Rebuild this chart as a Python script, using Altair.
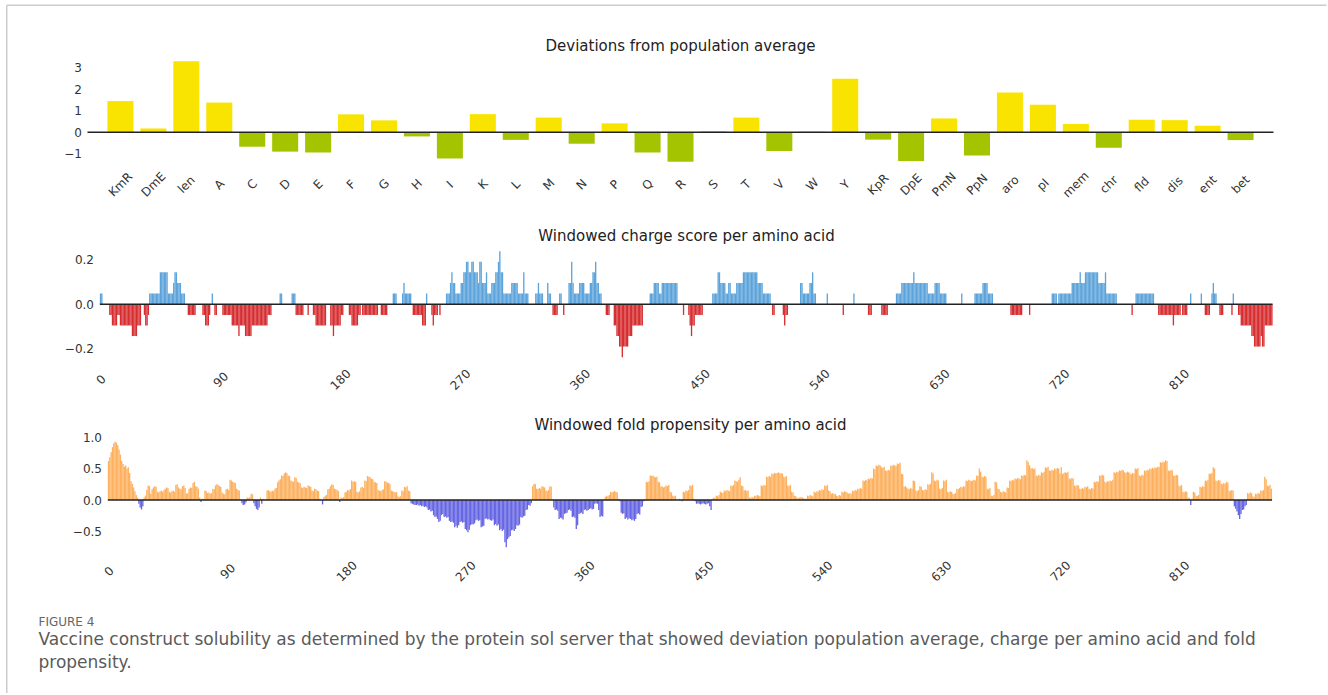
import altair as alt
import pandas as pd

# ---------------- data ----------------
CATEGORIES = ["KmR", "DmE", "len", "A", "C", "D", "E", "F", "G", "H", "I", "K", "L", "M",
              "N", "P", "Q", "R", "S", "T", "V", "W", "Y", "KpR", "DpE", "PmN", "PpN",
              "aro", "pI", "mem", "chr", "fld", "dis", "ent", "bet"]
DEVIATIONS = [1.45, 0.17, 3.31, 1.38, -0.68, -0.91, -0.95, 0.83, 0.55, -0.20, -1.23, 0.84,
              -0.36, 0.68, -0.54, 0.41, -0.95, -1.38, 0.05, 0.68, -0.88, 0.03, 2.49, -0.35,
              -1.35, 0.64, -1.09, 1.85, 1.28, 0.38, -0.73, 0.58, 0.56, 0.30, -0.37]
DEV_TICKS = [-1, 0, 1, 2, 3]

N_RESIDUES = 881

# windowed charge: (first residue, last residue, value); residues not listed are 0
CHARGE_SEGMENTS = [
    (0, 1, 0.048),
    (7, 8, -0.048), (9, 12, -0.095), (13, 14, -0.048), (15, 23, -0.095), (24, 27, -0.143), (28, 30, -0.095),
    (33, 33, -0.048), (34, 35, -0.095), (36, 36, -0.048),
    (37, 44, 0.048), (45, 50, 0.143), (51, 54, 0.048), (55, 55, 0.095), (56, 57, 0.143), (58, 60, 0.095), (61, 63, 0.048),
    (66, 71, -0.048),
    (77, 78, -0.048), (79, 81, -0.095), (82, 82, -0.048),
    (84, 84, 0.048),
    (86, 87, -0.048),
    (92, 98, -0.048), (99, 103, -0.095), (104, 104, -0.143), (105, 108, -0.095), (109, 113, -0.143),
    (114, 125, -0.095), (126, 128, -0.048),
    (135, 136, 0.048),
    (144, 146, 0.048),
    (147, 152, -0.048),
    (156, 156, -0.048),
    (160, 161, -0.048), (162, 169, -0.095),
    (173, 174, -0.095), (175, 175, -0.143), (176, 180, -0.095), (181, 182, -0.048),
    (187, 188, -0.048), (189, 193, -0.095), (194, 195, -0.048),
    (197, 208, -0.048),
    (211, 215, -0.048),
    (220, 222, 0.048),
    (227, 227, 0.048), (228, 228, 0.095), (229, 233, 0.048),
    (235, 241, -0.048), (242, 244, -0.095),
    (245, 245, 0.048),
    (249, 249, -0.048), (250, 250, -0.095), (251, 253, -0.048),
    (255, 255, -0.048),
    (260, 262, 0.048), (263, 263, 0.095), (264, 264, 0.143), (265, 266, 0.095), (267, 270, 0.048),
    (271, 272, 0.095), (273, 274, 0.143), (275, 276, 0.190), (277, 278, 0.143), (279, 280, 0.190),
    (281, 283, 0.143), (284, 284, 0.095), (285, 286, 0.190), (287, 289, 0.095), (290, 290, 0.143),
    (291, 293, 0.048), (294, 296, 0.095), (297, 298, 0.143), (299, 299, 0.190), (300, 300, 0.238),
    (301, 302, 0.143), (303, 308, 0.048), (309, 313, 0.095), (314, 317, 0.048), (318, 318, 0.143),
    (319, 321, 0.048),
    (327, 328, 0.048), (329, 329, 0.095), (330, 332, 0.048),
    (336, 336, 0.095), (337, 338, 0.048),
    (340, 343, -0.048),
    (345, 346, 0.048),
    (348, 348, -0.048),
    (352, 353, 0.095), (354, 354, 0.190), (355, 355, 0.095), (356, 359, 0.048), (360, 363, 0.095),
    (364, 367, 0.048), (368, 369, 0.095), (370, 371, 0.143), (372, 372, 0.190), (373, 374, 0.095),
    (375, 376, 0.048),
    (380, 382, -0.048),
    (386, 387, -0.095), (388, 389, -0.143), (390, 391, -0.190), (392, 392, -0.238), (393, 396, -0.190),
    (397, 399, -0.143), (400, 407, -0.095),
    (413, 415, 0.048), (416, 419, 0.095), (420, 421, 0.048), (422, 433, 0.095),
    (438, 438, -0.048),
    (442, 442, -0.048), (443, 443, -0.095), (444, 444, -0.143), (445, 446, -0.095), (447, 452, -0.048),
    (460, 463, 0.048), (464, 465, 0.143), (466, 469, 0.095), (470, 471, 0.048), (472, 473, 0.095),
    (474, 477, 0.048), (478, 482, 0.095), (483, 493, 0.143), (494, 497, 0.095), (498, 503, 0.048),
    (505, 506, -0.048),
    (513, 513, -0.048), (514, 514, -0.095), (515, 516, -0.048),
    (526, 527, 0.095), (528, 532, 0.048), (533, 534, 0.095), (535, 535, 0.143), (536, 537, 0.048),
    (546, 546, 0.048),
    (558, 558, -0.048),
    (566, 566, 0.048),
    (577, 579, -0.048),
    (587, 591, -0.048),
    (598, 601, 0.048), (602, 610, 0.095), (611, 611, 0.143), (612, 621, 0.095), (622, 626, 0.048),
    (627, 630, 0.095), (631, 635, 0.048),
    (647, 647, 0.048),
    (657, 662, 0.048), (663, 666, 0.095), (667, 670, 0.048),
    (684, 692, -0.048),
    (698, 698, -0.048),
    (715, 718, 0.048), (720, 729, 0.048), (730, 735, 0.095), (736, 736, 0.143), (737, 739, 0.095),
    (740, 749, 0.143), (750, 754, 0.095), (755, 755, 0.143), (756, 763, 0.048),
    (775, 775, -0.048),
    (778, 791, 0.048),
    (795, 805, -0.048), (806, 806, -0.095), (807, 811, -0.048), (813, 816, -0.048),
    (819, 819, 0.048),
    (827, 827, 0.048),
    (830, 833, -0.048),
    (835, 835, 0.048), (836, 836, 0.095), (837, 838, 0.048),
    (841, 843, -0.048),
    (850, 850, -0.048),
    (851, 851, 0.048),
    (855, 856, -0.048), (857, 864, -0.095), (865, 866, -0.143), (867, 871, -0.190), (872, 872, -0.143),
    (873, 874, -0.190), (875, 880, -0.095),
]

# windowed fold propensity, one value per residue (0 .. 880)
FOLD_VALUES = [
    0.62, 0.68, 0.76, 0.84, 0.90, 0.93, 0.91, 0.87, 0.80, 0.72, 0.62, 0.57, 0.53, 0.55, 0.50, 0.52, 0.43, 0.30, 0.26, 0.20,
    0.14, 0.08, 0.04, -0.06, -0.12, -0.15, -0.10, 0.04, 0.07, 0.16, 0.23, 0.22, 0.10, 0.17, 0.20, 0.22, 0.21, 0.13, 0.12, 0.14,
    0.15, 0.13, 0.16, 0.18, 0.20, 0.19, 0.13, 0.12, 0.14, 0.15, 0.13, 0.24, 0.25, 0.20, 0.18, 0.17, 0.22, 0.23, 0.19, 0.10,
    0.11, 0.18, 0.20, 0.19, 0.27, 0.29, 0.22, 0.21, 0.18, 0.04, -0.03, 0.02, 0.02, 0.15, 0.14, 0.11, 0.12, 0.10, 0.11, 0.18,
    0.17, 0.23, 0.25, 0.24, 0.22, 0.21, 0.12, 0.10, 0.09, 0.17, 0.18, 0.16, 0.32, 0.31, 0.29, 0.28, 0.27, 0.18, 0.16, 0.15,
    0.01, -0.05, -0.08, -0.07, -0.04, 0.04, 0.03, 0.05, 0.10, 0.09, -0.05, -0.10, -0.14, -0.16, -0.12, 0.04, -0.06, 0.02, 0.00, 0.01,
    0.15, 0.16, 0.14, 0.13, 0.15, 0.14, 0.18, 0.19, 0.28, 0.31, 0.33, 0.39, 0.38, 0.42, 0.44, 0.43, 0.39, 0.38, 0.31, 0.30,
    0.29, 0.36, 0.35, 0.29, 0.28, 0.27, 0.20, 0.19, 0.21, 0.20, 0.19, 0.23, 0.22, 0.21, 0.15, 0.14, 0.18, 0.17, 0.15, 0.14,
    0.02, 0.00, -0.07, 0.05, 0.07, 0.08, 0.17, 0.18, 0.22, 0.25, 0.24, 0.18, 0.17, 0.16, 0.14, -0.03, 0.04, 0.03, 0.05, 0.12,
    0.13, 0.16, 0.15, 0.17, 0.31, 0.29, 0.30, 0.29, 0.13, 0.12, 0.14, 0.20, 0.21, 0.19, 0.31, 0.30, 0.38, 0.37, 0.36, 0.34,
    0.33, 0.29, 0.28, 0.27, 0.16, 0.15, 0.14, 0.16, 0.17, 0.30, 0.29, 0.28, 0.27, 0.25, 0.15, 0.14, 0.13, 0.12, 0.13, 0.06,
    0.05, 0.06, 0.15, 0.14, 0.21, 0.20, 0.22, 0.15, 0.14, -0.05, -0.06, -0.07, -0.08, -0.08, -0.07, -0.09, -0.08, -0.10, -0.09, -0.11,
    -0.10, -0.12, -0.16, -0.15, -0.18, -0.17, -0.24, -0.27, -0.26, -0.30, -0.35, -0.33, -0.24, -0.22, -0.27, -0.26, -0.28, -0.27, -0.33, -0.35,
    -0.34, -0.36, -0.43, -0.41, -0.44, -0.40, -0.35, -0.34, -0.36, -0.35, -0.46, -0.48, -0.51, -0.47, -0.40, -0.38, -0.39, -0.37, -0.32, -0.31,
    -0.33, -0.32, -0.43, -0.42, -0.41, -0.30, -0.29, -0.31, -0.30, -0.32, -0.33, -0.31, -0.40, -0.38, -0.41, -0.39, -0.48, -0.46, -0.49, -0.47,
    -0.67, -0.75, -0.62, -0.59, -0.57, -0.48, -0.47, -0.49, -0.46, -0.40, -0.41, -0.39, -0.27, -0.28, -0.26, -0.25, -0.16, -0.15, -0.08, -0.09,
    -0.05, 0.22, 0.26, 0.25, 0.18, 0.17, 0.19, 0.18, 0.22, 0.21, 0.20, 0.15, 0.14, 0.16, 0.22, 0.21, 0.01, -0.12, -0.16, -0.15,
    -0.17, -0.30, -0.28, -0.29, -0.31, -0.22, -0.21, -0.20, -0.16, -0.15, -0.17, -0.27, -0.26, -0.28, -0.46, -0.40, -0.22, -0.21, -0.20, -0.22,
    -0.16, -0.15, -0.17, -0.16, -0.14, -0.13, -0.15, -0.14, -0.06, -0.05, -0.06, -0.16, -0.27, -0.25, -0.26, 0.01, 0.05, 0.07, 0.06, 0.08,
    0.13, 0.12, 0.13, 0.14, 0.13, 0.12, 0.02, -0.02, -0.20, -0.22, -0.21, -0.30, -0.28, -0.31, -0.29, -0.30, -0.32, -0.31, -0.33, -0.30,
    -0.22, -0.21, -0.23, -0.11, -0.10, -0.02, 0.01, 0.29, 0.28, 0.30, 0.39, 0.38, 0.39, 0.37, 0.36, 0.37, 0.29, 0.28, 0.21, 0.22,
    0.20, 0.21, 0.23, 0.22, 0.24, 0.13, 0.12, 0.07, 0.06, 0.07, 0.01, 0.01, 0.02, 0.01, -0.02, 0.13, 0.12, 0.15, 0.14, 0.16,
    0.23, 0.22, 0.24, 0.02, -0.02, -0.06, -0.05, -0.06, -0.07, -0.06, -0.05, -0.06, -0.07, -0.06, -0.05, -0.10, -0.16, 0.02, 0.04, 0.03,
    0.07, 0.06, 0.08, 0.13, 0.12, 0.11, 0.15, 0.14, 0.16, 0.15, 0.14, 0.23, 0.22, 0.24, 0.31, 0.30, 0.29, 0.32, 0.36, 0.23,
    0.22, 0.15, 0.16, 0.14, 0.15, 0.04, 0.03, 0.05, 0.04, 0.07, 0.06, 0.08, 0.07, 0.06, 0.23, 0.22, 0.24, 0.23, 0.37, 0.36,
    0.38, 0.37, 0.42, 0.41, 0.43, 0.42, 0.43, 0.44, 0.42, 0.43, 0.42, 0.37, 0.36, 0.38, 0.23, 0.22, 0.24, 0.13, 0.12, 0.07,
    0.06, 0.04, 0.03, 0.04, 0.05, 0.04, 0.03, 0.02, 0.02, 0.07, 0.06, 0.08, 0.07, 0.06, 0.13, 0.12, 0.14, 0.13, 0.16, 0.15,
    0.17, 0.16, 0.23, 0.22, 0.24, 0.15, 0.14, 0.10, 0.11, 0.09, 0.10, 0.07, 0.06, 0.08, 0.07, 0.13, 0.12, 0.14, 0.13, 0.12,
    0.10, 0.11, 0.09, 0.15, 0.14, 0.16, 0.15, 0.18, 0.17, 0.19, 0.18, 0.31, 0.30, 0.32, 0.31, 0.34, 0.33, 0.35, 0.34, 0.50,
    0.49, 0.55, 0.54, 0.56, 0.55, 0.52, 0.51, 0.53, 0.47, 0.46, 0.48, 0.47, 0.55, 0.54, 0.56, 0.55, 0.54, 0.58, 0.57, 0.59,
    0.42, 0.41, 0.21, 0.22, 0.20, 0.18, 0.17, 0.19, 0.18, 0.31, 0.30, 0.15, 0.14, 0.16, 0.22, 0.21, 0.16, 0.15, 0.17, 0.16,
    0.25, 0.24, 0.26, 0.44, 0.42, 0.31, 0.30, 0.32, 0.31, 0.18, 0.17, 0.19, 0.31, 0.30, 0.32, 0.13, 0.12, 0.14, 0.13, 0.10,
    0.09, 0.11, 0.18, 0.17, 0.19, 0.21, 0.20, 0.22, 0.21, 0.31, 0.30, 0.32, 0.31, 0.30, 0.31, 0.32, 0.31, 0.39, 0.38, 0.50,
    0.45, 0.37, 0.36, 0.38, 0.37, 0.18, 0.17, 0.19, 0.07, 0.06, 0.08, 0.29, 0.28, 0.18, 0.17, 0.13, 0.12, 0.14, 0.13, 0.12,
    0.20, 0.19, 0.31, 0.30, 0.32, 0.31, 0.34, 0.33, 0.35, 0.34, 0.33, 0.39, 0.38, 0.40, 0.39, 0.63, 0.60, 0.55, 0.50, 0.51,
    0.49, 0.50, 0.39, 0.38, 0.40, 0.39, 0.44, 0.43, 0.45, 0.52, 0.51, 0.53, 0.47, 0.46, 0.48, 0.47, 0.50, 0.49, 0.51, 0.50,
    0.42, 0.52, 0.41, 0.43, 0.44, 0.43, 0.45, 0.34, 0.33, 0.35, 0.34, 0.23, 0.22, 0.24, 0.23, 0.18, 0.17, 0.19, 0.18, 0.21,
    0.20, 0.22, 0.18, 0.17, 0.19, 0.18, 0.29, 0.28, 0.30, 0.29, 0.39, 0.38, 0.40, 0.39, 0.29, 0.28, 0.30, 0.29, 0.31, 0.30,
    0.32, 0.44, 0.43, 0.45, 0.44, 0.47, 0.46, 0.48, 0.47, 0.44, 0.43, 0.45, 0.44, 0.42, 0.41, 0.43, 0.42, 0.50, 0.49, 0.51,
    0.39, 0.38, 0.40, 0.39, 0.47, 0.46, 0.48, 0.47, 0.50, 0.49, 0.51, 0.50, 0.52, 0.51, 0.53, 0.52, 0.60, 0.59, 0.61, 0.60,
    0.63, 0.62, 0.47, 0.46, 0.48, 0.47, 0.39, 0.38, 0.40, 0.39, 0.23, 0.22, 0.24, 0.13, 0.12, 0.14, 0.13, 0.04, 0.03, -0.08,
    0.02, 0.13, 0.12, 0.07, 0.06, 0.08, 0.21, 0.20, 0.22, 0.21, 0.31, 0.30, 0.32, 0.42, 0.41, 0.43, 0.52, 0.50, 0.31, 0.30,
    0.32, 0.31, 0.26, 0.25, 0.27, 0.26, 0.29, 0.28, 0.15, 0.14, 0.16, 0.15, -0.10, -0.14, -0.18, -0.24, -0.30, -0.22, -0.16, -0.15,
    -0.10, -0.08, 0.11, 0.10, 0.12, 0.11, 0.06, 0.05, 0.10, 0.09, 0.11, 0.10, 0.15, 0.14, 0.16, 0.37, 0.33, 0.23, 0.22, 0.24,
    0.18,
]

X_TICKS = [0, 90, 180, 270, 360, 450, 540, 630, 720, 810]

TITLE_1 = "Deviations from population average"
TITLE_2 = "Windowed charge score per amino acid"
TITLE_3 = "Windowed fold propensity per amino acid"
CAPTION_HEAD = "FIGURE 4"
CAPTION_LINE_1 = ("Vaccine construct solubility as determined by the protein sol server that showed "
                  "deviation population average, charge per amino acid and fold")
CAPTION_LINE_2 = "propensity."

# ---------------- styling ----------------
YELLOW, GREEN = "#f9e300", "#a4c400"
BLUE, RED = "#5ba3da", "#d62d30"
ORANGE, VIOLET = "#fdb05e", "#6666e4"
FONT = "DejaVu Sans"
CAP_FONT = "DejaVu Sans"
W = 1186

# ---------------- tables ----------------
dev_df = pd.DataFrame({"cat": CATEGORIES, "v": DEVIATIONS})

charge = [0.0] * N_RESIDUES
for s, e, v in CHARGE_SEGMENTS:
    for i in range(s, e + 1):
        charge[i] = v
charge_df = pd.DataFrame({"i": list(range(N_RESIDUES)), "v": charge})
charge_df = charge_df[charge_df.v != 0]
charge_df = charge_df.assign(lo=charge_df.i - 0.5, hi=charge_df.i + 0.5, zero=0.0)

fold_df = pd.DataFrame({"i": list(range(len(FOLD_VALUES))), "v": FOLD_VALUES})
fold_df = fold_df.assign(lo=fold_df.i - 0.5, hi=fold_df.i + 0.5, zero=0.0)

zero_df = pd.DataFrame({"x0": [-0.5], "x1": [N_RESIDUES - 0.5], "y": [0.0]})
one_df = pd.DataFrame({"y": [0.0]})


def panel_title(text, dx, dy):
    return alt.TitleParams(text=text, font=FONT, fontSize=15, fontWeight="normal",
                           color="#222222", anchor="middle", offset=3, dx=dx, dy=dy)


# ---------------- panel 1 ----------------
y1_scale = alt.Scale(domain=[-2.0, 3.6], nice=False, zero=False)
y1_axis = alt.Axis(title=None, values=DEV_TICKS, format="d", offset=4, labelPadding=2,
                   labelOverlap=False)
bars1 = alt.Chart(dev_df).mark_bar().encode(
    x=alt.X("cat:N", sort=CATEGORIES,
            scale=alt.Scale(paddingInner=0.21, paddingOuter=0.605),
            axis=alt.Axis(title=None, labelAngle=-45, labelAlign="center", labelBaseline="middle",
                          labelPadding=9, labelOverlap=False)),
    y=alt.Y("v:Q", scale=y1_scale, axis=y1_axis),
    color=alt.condition(alt.datum.v > 0, alt.value(YELLOW), alt.value(GREEN)),
)
zero1 = alt.Chart(one_df).mark_rule(color="#222222", strokeWidth=1.5).encode(
    x=alt.value(0), x2=alt.value(W), y=alt.Y("y:Q", scale=y1_scale, axis=y1_axis))
panel1 = alt.layer(bars1, zero1).properties(width=W, height=120, title=panel_title(TITLE_1, 0, 2))

# ---------------- panel 2 ----------------
x2_scale = alt.Scale(domain=[-9.77, 881.2], nice=False, zero=False)
bars2 = alt.Chart(charge_df).mark_rect().encode(
    x=alt.X("lo:Q", scale=x2_scale,
            axis=alt.Axis(title=None, values=X_TICKS, format="d", labelAngle=-45, labelAlign="center",
                          labelBaseline="middle", labelPadding=15, labelOverlap=False)),
    x2="hi:Q",
    y=alt.Y("v:Q", scale=alt.Scale(domain=[-0.269, 0.27], nice=False, zero=False),
            axis=alt.Axis(title=None, values=[-0.2, -0.1, 0.0, 0.1, 0.2], format=".1f",
                          offset=-8, labelPadding=2, labelOverlap=False)),
    y2="zero:Q",
    color=alt.condition(alt.datum.v > 0, alt.value(BLUE), alt.value(RED)),
)
zero2 = alt.Chart(zero_df).mark_rule(color="#222222", strokeWidth=1.5).encode(
    x="x0:Q", x2="x1:Q", y="y:Q")
panel2 = alt.layer(bars2, zero2).properties(width=W, height=120.2, title=panel_title(TITLE_2, 6, 3))

# ---------------- panel 3 ----------------
x3_scale = alt.Scale(domain=[-15.89, 881.6], nice=False, zero=False)
bars3 = alt.Chart(fold_df).mark_rect().encode(
    x=alt.X("lo:Q", scale=x3_scale,
            axis=alt.Axis(title=None, values=X_TICKS, format="d", labelAngle=-45, labelAlign="center",
                          labelBaseline="middle", labelPadding=11, labelOverlap=False)),
    x2="hi:Q",
    y=alt.Y("v:Q", scale=alt.Scale(domain=[-0.95, 1.048], nice=False, zero=False),
            axis=alt.Axis(title=None, values=[-0.5, 0.0, 0.5, 1.0], format=".1f",
                          offset=-16, labelPadding=2, labelOverlap=False)),
    y2="zero:Q",
    color=alt.condition(alt.datum.v > 0, alt.value(ORANGE), alt.value(VIOLET)),
)
zero3 = alt.Chart(zero_df).mark_rule(color="#222222", strokeWidth=1.5).encode(
    x="x0:Q", x2="x1:Q", y="y:Q")
panel3 = alt.layer(bars3, zero3).properties(width=W, height=125.9, title=panel_title(TITLE_3, 10, 5))

# ---------------- caption strip with the figure frame ----------------
frame_left = alt.Chart(one_df).mark_rule(color="#cccccc", strokeWidth=1.5).encode(
    x=alt.value(-80.75), y=alt.value(-623.85), y2=alt.value(64))
frame_top = alt.Chart(one_df).mark_rule(color="#cccccc", strokeWidth=1.5).encode(
    y=alt.value(-623.85), x=alt.value(-80.75), x2=alt.value(1239))
cap_head = alt.Chart(one_df).mark_text(
    text=CAPTION_HEAD, font=CAP_FONT, fontSize=12, color="#666666", align="left", baseline="middle"
).encode(x=alt.value(-49), y=alt.value(-7.1))
cap_l1 = alt.Chart(one_df).mark_text(
    text=CAPTION_LINE_1, font=CAP_FONT, fontSize=17, color="#5a5a5a", align="left", baseline="middle"
).encode(x=alt.value(-49), y=alt.value(11.4))
cap_l2 = alt.Chart(one_df).mark_text(
    text=CAPTION_LINE_2, font=CAP_FONT, fontSize=17, color="#5a5a5a", align="left", baseline="middle"
).encode(x=alt.value(-49), y=alt.value(34.4))
caption = alt.layer(frame_left, frame_top, cap_head, cap_l1, cap_l2).properties(width=W, height=1)

chart = alt.vconcat(
    panel1, panel2, panel3, caption, spacing=69, bounds="flush",
    padding={"left": 5.5, "top": 4, "right": 0, "bottom": 0},
    background="white",
).configure_view(strokeWidth=0).configure_axis(
    grid=False, domain=False, ticks=False, tickSize=0, labelFont=FONT, labelFontSize=12,
    labelColor="#333333", labelOverlap=False,
)

chart.save("out.html", embed_options={"renderer": "svg", "actions": False})
